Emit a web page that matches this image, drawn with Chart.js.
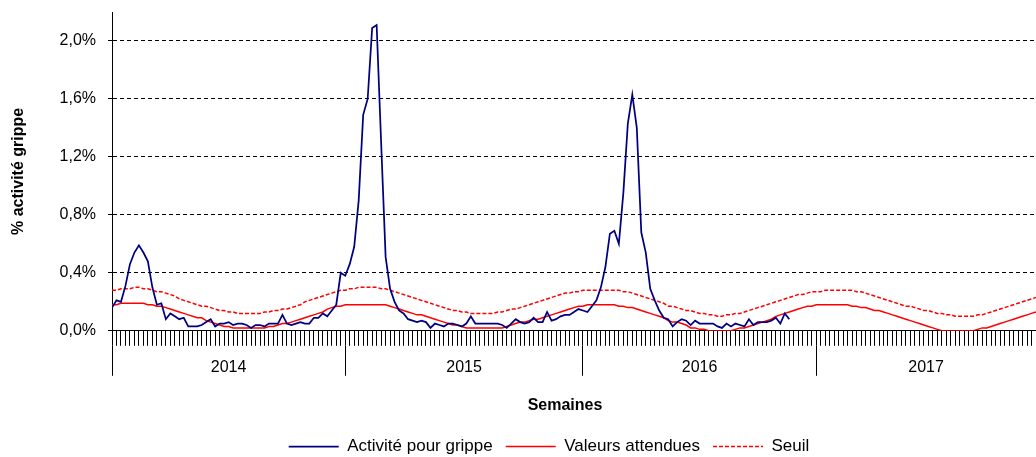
<!DOCTYPE html>
<html>
<head>
<meta charset="utf-8">
<script src="https://cdn.jsdelivr.net/npm/chart.js@4/dist/chart.umd.min.js"></script>
<style>
  html, body { margin: 0; padding: 0; background: #fff; }
</style>
</head>
<body>
<canvas id="myChart" width="1036" height="457"></canvas>
<script>
// weekly series, index 0 = week 1 of 2014
const years = ['2014', '2015', '2016', '2017'];
const yearStarts = [0, 52, 105, 157];
const lastWeek = 206;
const yTicks = [0, 0.4, 0.8, 1.2, 1.6, 2.0];

const activite = [
  0.16, 0.21, 0.20, 0.31, 0.46, 0.54, 0.59, 0.54, 0.48, 0.30,
  0.18, 0.19, 0.08, 0.12, 0.10, 0.08, 0.09, 0.03, 0.03, 0.03,
  0.04, 0.06, 0.08, 0.03, 0.05, 0.05, 0.06, 0.04, 0.05, 0.05,
  0.04, 0.02, 0.04, 0.04, 0.03, 0.05, 0.05, 0.05, 0.11, 0.05,
  0.04, 0.05, 0.06, 0.05, 0.05, 0.09, 0.09, 0.12, 0.10, 0.14,
  0.18, 0.40,
  0.38, 0.46, 0.58, 0.90, 1.49, 1.60, 2.09, 2.11, 1.30, 0.51,
  0.29, 0.20, 0.14, 0.12, 0.08, 0.07, 0.06, 0.07, 0.06, 0.02,
  0.05, 0.04, 0.03, 0.05, 0.05, 0.04, 0.03, 0.05, 0.10, 0.05,
  0.05, 0.05, 0.05, 0.05, 0.05, 0.04, 0.02, 0.05, 0.08, 0.06,
  0.05, 0.06, 0.09, 0.06, 0.06, 0.13, 0.07, 0.08, 0.10, 0.11,
  0.11, 0.13, 0.15,
  0.14, 0.13, 0.17, 0.21, 0.30, 0.44, 0.67, 0.69, 0.60, 0.95,
  1.43, 1.63, 1.40, 0.68, 0.54, 0.29, 0.21, 0.14, 0.09, 0.08,
  0.03, 0.06, 0.08, 0.07, 0.04, 0.07, 0.05, 0.05, 0.05, 0.05,
  0.03, 0.02, 0.05, 0.03, 0.05, 0.04, 0.03, 0.08, 0.04, 0.06,
  0.06, 0.06, 0.07, 0.09, 0.05, 0.12, 0.08
];

const attendues = [
  0.18, 0.18, 0.19, 0.19, 0.19, 0.19, 0.19, 0.19, 0.18, 0.18,
  0.17, 0.17, 0.16, 0.15, 0.14, 0.13, 0.12, 0.11, 0.10, 0.09,
  0.09, 0.07, 0.06, 0.05, 0.04, 0.03, 0.03, 0.02, 0.02, 0.02,
  0.02, 0.02, 0.02, 0.02, 0.02, 0.03, 0.03, 0.04, 0.05, 0.05,
  0.06, 0.07, 0.08, 0.09, 0.10, 0.11, 0.12, 0.13, 0.15, 0.16,
  0.17, 0.17,
  0.18, 0.18, 0.18, 0.18, 0.18, 0.18, 0.18, 0.18, 0.18, 0.18,
  0.17, 0.16, 0.15, 0.14, 0.13, 0.12, 0.11, 0.11, 0.10, 0.09,
  0.08, 0.07, 0.06, 0.05, 0.04, 0.04, 0.03, 0.02, 0.02, 0.02,
  0.02, 0.02, 0.02, 0.02, 0.02, 0.02, 0.03, 0.04, 0.05, 0.06,
  0.06, 0.07, 0.08, 0.08, 0.09, 0.10, 0.11, 0.12, 0.13, 0.14,
  0.15, 0.16, 0.17,
  0.17, 0.18, 0.18, 0.18, 0.18, 0.18, 0.18, 0.18, 0.17, 0.17,
  0.16, 0.16, 0.15, 0.14, 0.13, 0.12, 0.11, 0.10, 0.09, 0.07,
  0.06, 0.06, 0.05, 0.04, 0.02, 0.02, 0.01, 0.01, 0.00, 0.00,
  0.00, 0.00, 0.00, 0.00, 0.01, 0.02, 0.02, 0.03, 0.04, 0.05,
  0.06, 0.07, 0.08, 0.10, 0.11, 0.12, 0.13, 0.14, 0.15, 0.16,
  0.17, 0.17,
  0.18, 0.18, 0.18, 0.18, 0.18, 0.18, 0.18, 0.18, 0.17, 0.17,
  0.16, 0.16, 0.15, 0.14, 0.14, 0.13, 0.12, 0.11, 0.10, 0.09,
  0.08, 0.07, 0.06, 0.05, 0.04, 0.03, 0.02, 0.01, 0.00, 0.00,
  0.00, 0.00, 0.00, 0.00, 0.00, 0.00, 0.01, 0.02, 0.02, 0.03,
  0.04, 0.05, 0.06, 0.07, 0.08, 0.09, 0.10, 0.11, 0.12, 0.13
];

const seuil = [
  0.28, 0.28, 0.29, 0.29, 0.29, 0.30, 0.30, 0.29, 0.29, 0.28,
  0.27, 0.27, 0.26, 0.25, 0.24, 0.22, 0.21, 0.20, 0.19, 0.18,
  0.17, 0.17, 0.16, 0.15, 0.14, 0.14, 0.13, 0.13, 0.12, 0.12,
  0.12, 0.12, 0.12, 0.12, 0.13, 0.13, 0.14, 0.14, 0.15, 0.15,
  0.16, 0.17, 0.18, 0.20, 0.21, 0.22, 0.23, 0.24, 0.25, 0.26,
  0.27, 0.28,
  0.28, 0.29, 0.29, 0.30, 0.30, 0.30, 0.30, 0.30, 0.29, 0.29,
  0.28, 0.27, 0.26, 0.25, 0.24, 0.23, 0.22, 0.21, 0.20, 0.19,
  0.18, 0.17, 0.16, 0.15, 0.14, 0.14, 0.13, 0.13, 0.12, 0.12,
  0.12, 0.12, 0.12, 0.12, 0.13, 0.13, 0.14, 0.15, 0.15, 0.16,
  0.17, 0.18, 0.19, 0.20, 0.21, 0.22, 0.23, 0.24, 0.25, 0.26,
  0.26, 0.27, 0.27,
  0.28, 0.28, 0.28, 0.28, 0.28, 0.28, 0.28, 0.28, 0.28, 0.27,
  0.27, 0.26, 0.25, 0.24, 0.23, 0.22, 0.21, 0.20, 0.19, 0.17,
  0.17, 0.16, 0.15, 0.14, 0.14, 0.13, 0.12, 0.12, 0.11, 0.11,
  0.10, 0.10, 0.11, 0.11, 0.12, 0.12, 0.13, 0.14, 0.15, 0.16,
  0.17, 0.18, 0.19, 0.20, 0.21, 0.22, 0.23, 0.24, 0.25, 0.25,
  0.26, 0.27,
  0.27, 0.27, 0.28, 0.28, 0.28, 0.28, 0.28, 0.28, 0.28, 0.27,
  0.27, 0.26, 0.25, 0.24, 0.23, 0.22, 0.21, 0.20, 0.19, 0.18,
  0.17, 0.17, 0.16, 0.15, 0.14, 0.14, 0.13, 0.12, 0.12, 0.11,
  0.11, 0.10, 0.10, 0.10, 0.10, 0.10, 0.11, 0.11, 0.12, 0.13,
  0.14, 0.15, 0.16, 0.17, 0.18, 0.19, 0.20, 0.21, 0.22, 0.23
];

const weeks = attendues.map((v, i) => i);

// year axis: boundaries get a line, middle of each year gets the label
const yearTicks = [];
yearStarts.forEach((start, i) => {
  const end = i < yearStarts.length - 1 ? yearStarts[i + 1] : lastWeek;
  yearTicks.push({ value: start, year: null });
  yearTicks.push({ value: (start + end) / 2, year: years[i] });
});

Chart.defaults.font.family = "'Liberation Sans', Arial, sans-serif";
Chart.defaults.font.size = 16;
Chart.defaults.color = '#000';

// legend and x title sit right of the canvas centre in the original
const shiftBottomBoxes = {
  id: 'shiftBottomBoxes',
  afterLayout(chart) {
    chart.legend.left += 31;
    chart.legend.right += 31;
    chart.titleBlock.left += 47;
    chart.titleBlock.right += 47;
  }
};

const noPadding = (scale) => {
  scale.paddingTop = 0;
  scale.paddingBottom = 0;
  scale.paddingLeft = 0;
  scale.paddingRight = 0;
};

const ctx = document.getElementById('myChart').getContext('2d');
const chart = new Chart(ctx, {
  type: 'line',
  data: {
    labels: weeks,
    datasets: [
      {
        label: 'Activité pour grippe',
        data: activite,
        borderColor: '#000080',
        backgroundColor: '#000080',
        borderWidth: 1.75,
        pointRadius: 0,
        tension: 0,
      },
      {
        label: 'Valeurs attendues',
        data: attendues,
        borderColor: '#ff0000',
        backgroundColor: '#ff0000',
        borderWidth: 1.5,
        pointRadius: 0,
        tension: 0,
      },
      {
        label: 'Seuil',
        data: seuil,
        borderColor: '#ff0000',
        backgroundColor: '#ff0000',
        borderWidth: 1.5,
        borderDash: [4, 2],
        pointRadius: 0,
        tension: 0,
      },
    ],
  },
  options: {
    responsive: false,
    animation: false,
    devicePixelRatio: 1,
    layout: { padding: { top: 12, left: 0, right: 0, bottom: -8 } },
    scales: {
      x: {
        type: 'linear',
        min: 0,
        max: lastWeek,
        weight: 0,
        afterBuildTicks: (scale) => { scale.ticks = weeks.map((w) => ({ value: w })); },
        afterFit: (scale) => { scale.height = 15; noPadding(scale); },
        ticks: { display: false },
        grid: { drawOnChartArea: false, drawTicks: true, tickLength: 15, color: '#000', lineWidth: 1 },
        border: { color: '#000', width: 1 },
      },
      years: {
        type: 'linear',
        position: 'bottom',
        min: 0,
        max: lastWeek,
        weight: 1,
        afterBuildTicks: (scale) => { scale.ticks = yearTicks.map((t) => ({ value: t.value })); },
        afterFit: (scale) => { scale.height = 30; noPadding(scale); },
        ticks: {
          autoSkip: false,
          maxRotation: 0,
          padding: -18,
          callback: (value, index) => yearTicks[index].year || '',
        },
        grid: {
          drawOnChartArea: false,
          tickLength: 30,
          lineWidth: 1,
          color: (c) => (c.index % 2 === 0 ? '#000' : 'rgba(0,0,0,0)'),
        },
        border: { display: false },
      },
      y: {
        min: 0,
        max: 2.2,
        afterBuildTicks: (scale) => { scale.ticks = yTicks.map((v) => ({ value: v })); },
        afterFit: (scale) => { scale.width = 112; noPadding(scale); },
        ticks: {
          padding: 12,
          callback: (value) => value.toFixed(1).replace('.', ',') + '%',
        },
        grid: {
          tickLength: 4,
          lineWidth: 1,
          color: (c) => (c.tick && c.tick.value === 0 ? 'rgba(0,0,0,0)' : '#000'),
          tickColor: '#000',
        },
        border: { color: '#000', width: 1, dash: [4, 3] },
        title: {
          display: true,
          text: '% activité grippe',
          font: { size: 16, weight: 'bold' },
          padding: { top: 9, bottom: 0 },
        },
      },
    },
    plugins: {
      title: {
        display: true,
        text: 'Semaines',
        position: 'bottom',
        weight: 500,
        font: { size: 16, weight: 'bold' },
        padding: { top: 20, bottom: 10 },
      },
      legend: {
        position: 'bottom',
        labels: {
          boxWidth: 50,
          boxHeight: 0,
          padding: 13,
          font: { size: 17 },
        },
      },
      tooltip: { enabled: false },
    },
  },
  plugins: [shiftBottomBoxes],
});
</script>
</body>
</html>
